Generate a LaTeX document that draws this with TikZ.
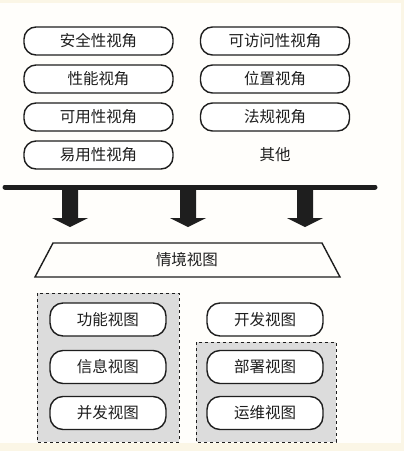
\documentclass[tikz,border=0pt]{standalone}
\usepackage{fontspec}
\usepackage{tikz}
\newfontfamily\cjk{Noto Sans CJK SC}
\definecolor{cream}{HTML}{FBF6E6}
\definecolor{paper}{HTML}{FFFEFB}
\definecolor{boxgray}{HTML}{DCDCDC}
\definecolor{ink}{HTML}{1E1E1E}

\begin{document}
\begin{tikzpicture}[x=1pt,y=-1pt,
  pill/.style={draw=ink,line width=1.4pt,rounded corners=12pt,fill=white,
    minimum width=149pt,minimum height=28pt,font=\cjk\fontsize{15.5}{17}\selectfont,text=ink},
  vpill/.style={pill,minimum width=116pt,minimum height=33pt,rounded corners=13pt},
  grp/.style={draw=ink,dashed,fill=boxgray,line width=0.7pt},
  label/.style={font=\cjk\fontsize{15.5}{17}\selectfont,text=ink}]
\useasboundingbox (0,0) rectangle (404,451);
\fill[cream] (0,0) rectangle (404,451);
\fill[paper] (0,3) rectangle (401,443);

% viewpoints
\node [pill] (sec) at (98.5,41) {安全性视角};
\node [pill] (perf) at (98.5,79) {性能视角};
\node [pill] (avail) at (98.5,117) {可用性视角};
\node [pill] (usab) at (98.5,155) {易用性视角};
\node [pill] (acc) at (275,41) {可访问性视角};
\node [pill] (loc) at (275,79) {位置视角};
\node [pill] (reg) at (275,117) {法规视角};
\node [label] (other) at (275,155) {其他};

% bar and arrows
\coordinate (barl) at (5,187);
\coordinate (barr) at (375,187);
\draw [ink,line width=5pt,line cap=round] (barl) -- (barr);
\foreach \x in {70,188,305}
  \fill [ink] (\x-8,189) -- (\x+8,189) -- (\x+8,218) -- (\x+18,218)
    -- (\x,227) -- (\x-18,218) -- (\x-8,218) -- cycle;

% context
\draw [ink,line width=1.4pt] (53,243) -- (322,243) -- (340,277) -- (35,277) -- cycle;
\node [label] (ctx) at (187,260) {情境视图};

% views
\draw [grp] (37,293) rectangle (179,442);
\draw [grp] (196,342) rectangle (336,442);
\node [vpill] (func) at (108,319.5) {功能视图};
\node [vpill] (info) at (108,367) {信息视图};
\node [vpill] (conc) at (108,413) {并发视图};
\node [vpill] (dev) at (265,319.5) {开发视图};
\node [vpill] (depl) at (265,367) {部署视图};
\node [vpill] (ops) at (265,413) {运维视图};
\end{tikzpicture}
\end{document}
